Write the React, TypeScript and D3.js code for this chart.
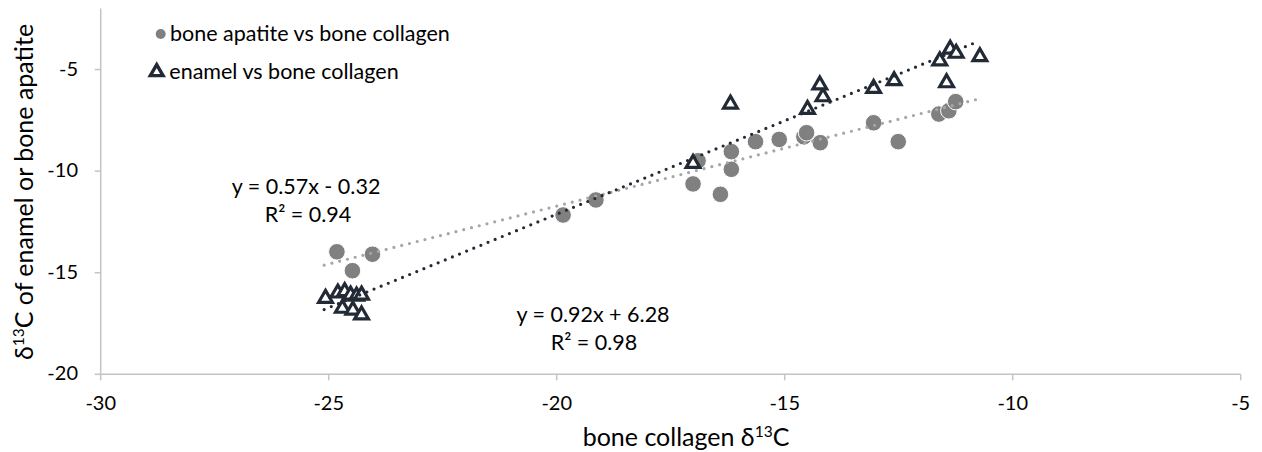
import * as d3 from "d3";

// bone collagen δ13C (x) vs bone apatite δ13C (y)
const apatiteX = [-24.82, -24.04, -24.48, -19.86, -19.14, -16.9, -17.01, -16.41, -16.17, -16.17, -15.64, -15.12, -14.58, -14.52, -14.22, -13.05, -12.51, -11.62, -11.4, -11.25];
const apatiteY = [-13.97, -14.09, -14.9, -12.16, -11.42, -9.49, -10.63, -11.14, -9.04, -9.91, -8.55, -8.44, -8.31, -8.11, -8.6, -7.62, -8.55, -7.19, -7.03, -6.58];

// bone collagen δ13C (x) vs enamel δ13C (y)
const enamelX = [-25.07, -24.8, -24.65, -24.52, -24.39, -24.28, -24.7, -24.47, -24.28, -17.01, -16.19, -14.5, -14.16, -14.23, -13.05, -12.6, -11.6, -11.37, -11.24, -10.72, -11.45];
const enamelY = [-16.26, -16.0, -15.93, -16.1, -16.15, -16.1, -16.75, -16.84, -17.08, -9.62, -6.7, -6.96, -6.34, -5.76, -5.93, -5.55, -4.57, -4.0, -4.2, -4.37, -5.65];

// linear trendlines (slope, intercept) and their x extent
const apatiteFit = [0.57, -0.32];
const enamelFit = [0.92, 6.28];
const fitRange = [-25.1, -10.75];

const xTicks = [-30, -25, -20, -15, -10, -5];
const yTicks = [-20, -15, -10, -5];

const seriesNames = ["bone apatite vs bone collagen", "enamel vs bone collagen"];
const fitLabels = [
    ["y = 0.57x - 0.32", "R² = 0.94"],
    ["y = 0.92x + 6.28", "R² = 0.98"],
];

const W = 1262;
const H = 452;
const FONT = "Lato, 'Open Sans', sans-serif";
const DARK = "#222a35";

export default function App() {
    const x = d3.scaleLinear().domain([-30, -5]).range([100.7, 1240.7]);
    const y = d3.scaleLinear().domain([-20, -2]).range([374.3, 8.6]);

    const tri = d3.symbol(d3.symbolTriangle, 82)() as string;
    const legendTri = d3.symbol(d3.symbolTriangle, 70)() as string;

    const fitPath = (fit: number[]) =>
        d3.line<number>().x(d => x(d)).y(d => y(fit[0] * d + fit[1]))(fitRange) as string;

    const apatite = apatiteX.map((v, i) => ({ x: v, y: apatiteY[i] }));
    const enamel = enamelX.map((v, i) => ({ x: v, y: enamelY[i] }));

    return (
        <svg width={W} height={H} style={{ position: "absolute", left: 0, top: 0 }} fontFamily={FONT}>
            <rect width={W} height={H} fill="#fff" />

            {/* axes */}
            <g stroke="#c4c4c4" strokeWidth={1.5}>
                <line x1={x(-30)} x2={x(-5)} y1={y(-20)} y2={y(-20)} />
                <line x1={x(-30)} x2={x(-30)} y1={y(-2)} y2={y(-20)} />
                {xTicks.map(t => (
                    <line key={t} x1={x(t)} x2={x(t)} y1={y(-20)} y2={y(-20) + 6} />
                ))}
                {yTicks.map(t => (
                    <line key={t} x1={x(-30) - 6} x2={x(-30)} y1={y(t)} y2={y(t)} />
                ))}
            </g>
            <g fontSize={20} fill="#000">
                {xTicks.map(t => (
                    <text key={t} x={x(t)} y={y(-20) + 31} textAnchor="middle" dominantBaseline="middle">
                        {t}
                    </text>
                ))}
                {yTicks.map(t => (
                    <text key={t} x={78} y={y(t) + 1} textAnchor="end" dominantBaseline="middle">
                        {t}
                    </text>
                ))}
            </g>

            {/* points */}
            {apatite.map((d, i) => (
                <circle key={i} cx={x(d.x)} cy={y(d.y)} r={8.3} fill="#808080" stroke="#fff" strokeWidth={1} />
            ))}
            {enamel.map((d, i) => (
                <path key={i} d={tri} transform={`translate(${x(d.x)},${y(d.y)})`} fill="#fff" stroke={DARK} strokeWidth={3.2} />
            ))}

            {/* trendlines */}
            <path d={fitPath(apatiteFit)} fill="none" stroke="#a6a6a6" strokeWidth={3.2} strokeDasharray="0 8" strokeLinecap="round" />
            <path d={fitPath(enamelFit)} fill="none" stroke={DARK} strokeWidth={3.2} strokeDasharray="0 7.7" strokeLinecap="round" />

            {/* trendline labels */}
            <g fontSize={21.5} textAnchor="middle">
                <text x={306} y={194}>{fitLabels[0][0]}</text>
                <text x={308} y={222}>{fitLabels[0][1]}</text>
                <text x={593} y={322}>{fitLabels[1][0]}</text>
                <text x={594} y={350}>{fitLabels[1][1]}</text>
            </g>

            {/* legend */}
            <circle cx={160.7} cy={34} r={5} fill="#808080" />
            <text x={170} y={41} fontSize={21.5}>{seriesNames[0]}</text>
            <path d={legendTri} transform="translate(156.7,72)" fill="#fff" stroke={DARK} strokeWidth={3.4} />
            <text x={169.3} y={78.5} fontSize={21.5}>{seriesNames[1]}</text>

            {/* axis titles */}
            <text x={686} y={446} fontSize={25} textAnchor="middle">
                bone collagen δ<tspan fontSize={15.5} dy={-9}>13</tspan>
                <tspan dy={9}>C</tspan>
            </text>
            <text transform="translate(33,192) rotate(-90)" fontSize={25} textAnchor="middle">
                δ<tspan fontSize={15.5} dy={-9}>13</tspan>
                <tspan dy={9}>C of enamel or bone apatite</tspan>
            </text>
        </svg>
    );
}
